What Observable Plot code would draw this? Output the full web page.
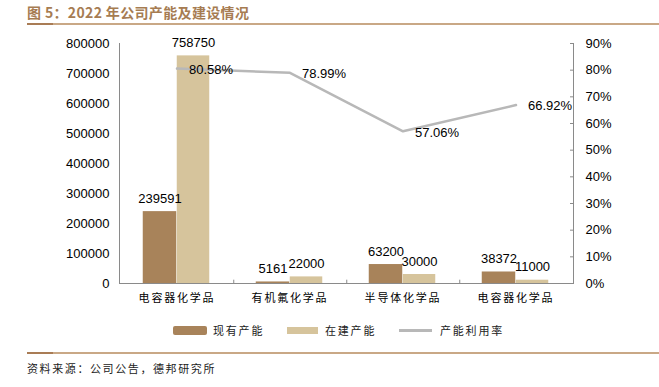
<!DOCTYPE html>
<html><head><meta charset="utf-8">
<script src="https://cdn.jsdelivr.net/npm/d3@7"></script>
<script src="https://cdn.jsdelivr.net/npm/@observablehq/plot@0.6"></script>
<style>
body{margin:0;background:#fff;width:659px;height:387px;position:relative;overflow:hidden;font-family:"Noto Sans CJK SC",sans-serif}
#title{position:absolute;left:27px;top:4px;font-size:14px;line-height:16px;font-weight:bold;color:#a67c52;white-space:nowrap;letter-spacing:0.35px}
.rule{position:absolute;left:27px;width:632px;height:2px;background:#c9a886}
.rule .seg{position:absolute;left:0;top:0;width:26px;height:2px;background:#a97c55}
#chart{position:absolute;left:0;top:30px}
.lg{position:absolute}
.lt{position:absolute;font-size:11px;line-height:14px;letter-spacing:1.8px;color:#222;white-space:nowrap}
#source{position:absolute;left:27px;top:361px;font-size:11px;line-height:14px;letter-spacing:1.6px;color:#222;white-space:nowrap}
#chart svg g[aria-label="x-axis tick label"] text{letter-spacing:1.8px;font-family:"Noto Sans CJK SC",sans-serif}
</style></head><body>
<div id="title">图 5：2022 年公司产能及建设情况</div>
<div class="rule" style="top:23px"><div class="seg"></div></div>
<div id="chart"></div>
<div class="lg" style="left:173px;top:326px;width:34px;height:9px;background:#a8835a;border-radius:2px"></div>
<div class="lt" style="left:213px;top:323px">现有产能</div>
<div class="lg" style="left:287px;top:327px;width:31px;height:7px;background:#d6c49c"></div>
<div class="lt" style="left:325px;top:323px">在建产能</div>
<div class="lg" style="left:399px;top:329px;width:33px;height:3px;background:#b8b8b8"></div>
<div class="lt" style="left:440px;top:323px">产能利用率</div>
<div class="rule" style="top:352px"><div class="seg"></div></div>
<div id="source">资料来源：公司公告，德邦研究所</div>
<script>
const categories = ["电容器化学品", "有机氟化学品", "半导体化学品", "电容器化学品"];
const existing = [239591, 5161, 63200, 38372];
const building = [758750, 22000, 30000, 11000];
const utilization = [80.58, 78.99, 57.06, 66.92];
const leftTicks = [0, 100000, 200000, 300000, 400000, 500000, 600000, 700000, 800000];
const rightTicks = [0, 10, 20, 30, 40, 50, 60, 70, 80, 90];

const ids = categories.map((_, i) => i);
const rows = ids.map(i => ({id: i, cur: existing[i], bld: building[i], rate: utilization[i]}));
const toY = r => r / 90 * 800000;
const axisColor = "#8a8a8a";

const chart = Plot.plot({
  width: 659, height: 285,
  marginLeft: 119, marginRight: 86, marginTop: 13, marginBottom: 32,
  style: {fontFamily: "'Liberation Sans', Arial, sans-serif", fontSize: "13px", color: "#000", background: "transparent"},
  x: {type: "band", domain: ids, padding: 0},
  y: {domain: [0, 800000]},
  marks: [
    Plot.barY(rows, {x: "id", y: "cur", fill: "#a8835a", insetLeft: 22.75, insetRight: 56.75}),
    Plot.barY(rows, {x: "id", y: "bld", fill: "#d6c49c", insetLeft: 56.75, insetRight: 23.75}),
    Plot.ruleY([0], {stroke: axisColor}),
    Plot.frame({anchor: "left", stroke: axisColor}),
    Plot.frame({anchor: "right", stroke: axisColor}),
    Plot.ruleX(ids.slice(0, -1), {x: d => d, dx: 56.75, y1: 0, y2: 11000, stroke: axisColor}),
    Plot.axisY({ticks: leftTicks, tickSize: 0, tickPadding: 10, tickFormat: d => String(d), label: null, fontSize: 13}),
    Plot.axisY({anchor: "right", ticks: rightTicks.map(toY), tickSize: -4, tickPadding: 16, stroke: axisColor,
      tickFormat: d => Math.round(d / 800000 * 90) + "%", label: null, fontSize: 13}),
    Plot.axisX({tickSize: 0, tickPadding: 11, tickFormat: i => categories[i], label: null, fontSize: 11}),
    Plot.line(rows, {x: "id", y: d => toY(d.rate), stroke: "#b8b8b8", strokeWidth: 2.5}),
    Plot.text(rows, {x: "id", y: d => toY(d.rate), text: d => d.rate.toFixed(2) + "%", textAnchor: "start", dx: 12, dy: 1, fontSize: 13}),
    Plot.text(rows, {x: "id", y: "cur", text: d => String(d.cur), dx: -17, dy: -13, fontSize: 13}),
    Plot.text(rows, {x: "id", y: "bld", text: d => String(d.bld), dx: 16.5, dy: -13, fontSize: 13})
  ]
});
document.getElementById("chart").appendChild(chart);
</script>
</body></html>
